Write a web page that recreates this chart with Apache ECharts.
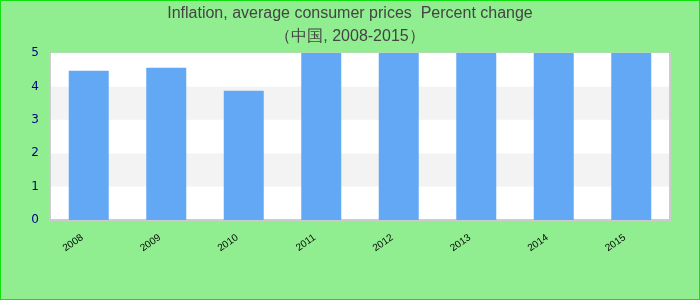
<!DOCTYPE html>
<html>
<head>
<meta charset="utf-8">
<script src="https://cdn.jsdelivr.net/npm/echarts@6/dist/echarts.min.js"></script>
<style>
  html, body { margin: 0; padding: 0; }
  #chart { width: 700px; height: 300px; box-sizing: border-box; border: 1px solid #11e011; background: #90ee90; }
</style>
</head>
<body>
<div id="chart"></div>
<script>
// 数据
const years = ['2008', '2009', '2010', '2011', '2012', '2013', '2014', '2015']
const inflation = [4.47, 4.56, 3.87, 5, 5, 5, 5, 5]
const yTicks = [0, 1, 2, 3, 4, 5]

const chart = echarts.init(document.getElementById('chart'))
chart.setOption({
    backgroundColor: 'transparent',
    title: {
        text: 'Inflation, average consumer prices  Percent change\n（中国, 2008-2015）',
        left: 'center',
        top: 1,
        padding: 0,
        textStyle: {
            fontFamily: 'Liberation Sans, Arial, sans-serif',
            fontSize: 16,
            fontWeight: 'normal',
            color: '#444',
            lineHeight: 23
        }
    },
    grid: {
        left: 49,
        right: 29,
        top: 52,
        bottom: 79,
        show: true,
        backgroundColor: '#fff',
        borderColor: '#ccc',
        borderWidth: 1
    },
    xAxis: {
        type: 'category',
        data: years,
        axisLine: { show: true, lineStyle: { color: '#ccc', width: 2 } },
        axisTick: { show: false },
        axisLabel: {
            rotate: 35,
            fontSize: 10,
            color: '#000',
            margin: 12,
            padding: [0, 8, 0, 0],
            fontFamily: 'Liberation Sans, Arial, sans-serif'
        }
    },
    yAxis: [{
        type: 'value',
        min: yTicks[0],
        max: yTicks[yTicks.length - 1],
        interval: 1,
        axisLine: { show: true, lineStyle: { color: '#ccc' } },
        axisTick: { show: false },
        splitLine: { show: false },
        splitArea: { show: true, areaStyle: { color: ['#fff', '#f3f3f3'] } },
        axisLabel: {
            fontSize: 12,
            color: '#00008b',
            margin: 11,
            fontFamily: 'DejaVu Sans, sans-serif'
        }
    }, {
        type: 'value',
        position: 'right',
        min: yTicks[0],
        max: yTicks[yTicks.length - 1],
        interval: 1,
        axisLine: { show: true, lineStyle: { color: '#ccc', width: 2 } },
        axisTick: { show: false },
        axisLabel: { show: false },
        splitLine: { show: false }
    }],
    series: [{
        type: 'bar',
        data: inflation,
        barWidth: 40,
        clip: true,
        itemStyle: { color: '#62a8f5' }
    }]
})
</script>
</body>
</html>
